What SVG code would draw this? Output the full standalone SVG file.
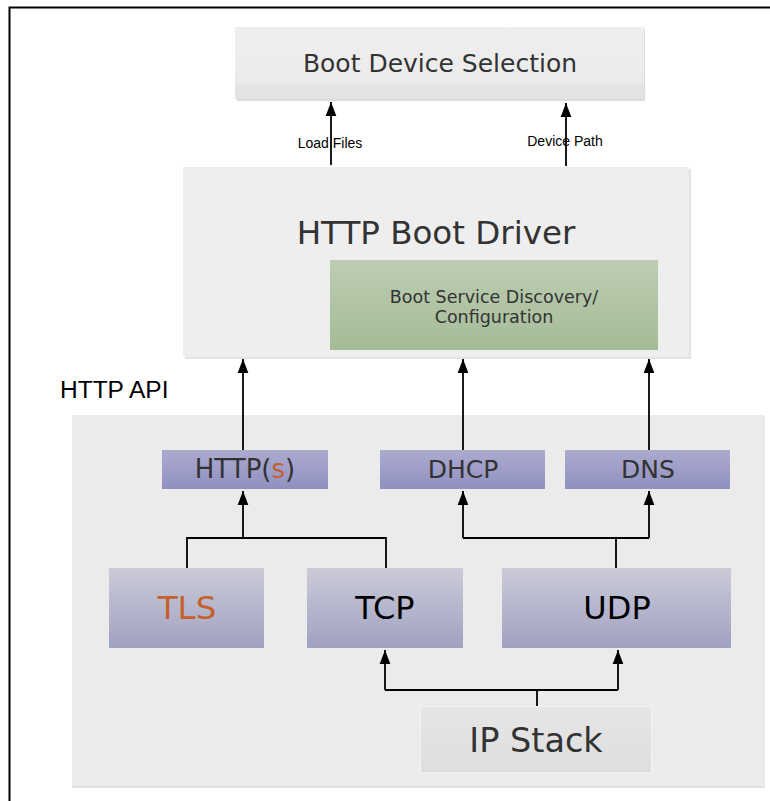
<svg xmlns="http://www.w3.org/2000/svg" width="770" height="801" viewBox="0 0 770 801">
<style>
.t{font-family:"DejaVu Sans",Verdana,sans-serif;text-anchor:middle;fill:#333}
.h{font-family:"Liberation Sans",Arial,sans-serif;fill:#000}
.c{fill:none;stroke:#000;stroke-width:1.8}
.o{fill:#c5602c}
</style>
<defs>
<linearGradient id="gGray" x1="0" y1="0" x2="0" y2="1"><stop offset="0" stop-color="#efefef"/><stop offset="0.78" stop-color="#ebebeb"/><stop offset="0.8" stop-color="#e4e4e4"/><stop offset="1" stop-color="#e2e2e2"/></linearGradient>
<linearGradient id="gGreen" x1="0" y1="0" x2="0" y2="1"><stop offset="0" stop-color="#bccdb3"/><stop offset="1" stop-color="#a5bc97"/></linearGradient>
<linearGradient id="gPurp" x1="0" y1="0" x2="0" y2="1"><stop offset="0" stop-color="#ababcf"/><stop offset="1" stop-color="#9090c1"/></linearGradient>
<linearGradient id="gProto" x1="0" y1="0" x2="0" y2="1"><stop offset="0" stop-color="#cbcbd9"/><stop offset="1" stop-color="#a1a1c1"/></linearGradient>
<linearGradient id="gIP" x1="0" y1="0" x2="0" y2="1"><stop offset="0" stop-color="#e6e6e6"/><stop offset="1" stop-color="#dedede"/></linearGradient>
<marker id="ah" markerUnits="userSpaceOnUse" markerWidth="14" markerHeight="18" refX="17" refY="6.5" viewBox="0 0 17 13" orient="auto"><path d="M0,0 L17,6.5 L0,13 Z" fill="#000"/></marker>
</defs>
<rect width="770" height="801" fill="#fff"/>
<path d="M9.5,801 V7.5 H770" fill="none" stroke="#000" stroke-width="2"/>

<g id="boot-device-selection">
<rect x="237" y="29" width="408" height="72" fill="#dcdcdc"/>
<rect x="235" y="27" width="409" height="72" fill="url(#gGray)"/>
<text class="t" x="440" y="72" font-size="25">Boot Device Selection</text>
</g>

<g id="http-boot-driver">
<rect x="185" y="169" width="506" height="190" fill="#e2e2e2"/>
<rect x="183" y="167" width="506" height="190" fill="#eeeeee"/>
<text class="t" x="436" y="244" font-size="32.5">HTTP Boot Driver</text>
</g>

<g id="boot-service-discovery">
<rect x="330" y="260" width="328" height="90" fill="url(#gGreen)"/>
<text class="t" x="494" y="303" font-size="17.5">Boot Service Discovery/</text>
<text class="t" x="494" y="323" font-size="17.5">Configuration</text>
</g>

<g id="http-api-label">
<text class="h" x="60" y="398" font-size="24.5">HTTP API</text>
</g>

<g id="http-api-panel">
<rect x="72" y="415" width="693" height="373" fill="#ebebeb"/>
<rect x="72" y="786" width="693" height="2" fill="#e0e0e0"/>
</g>

<g id="https">
<rect x="162" y="450" width="166" height="39" fill="url(#gPurp)"/>
<text class="t" x="245" y="478" font-size="26">HTTP(<tspan class="o">s</tspan>)</text>
</g>
<g id="dhcp">
<rect x="380" y="450" width="165" height="39" fill="url(#gPurp)"/>
<text class="t" x="463" y="478" font-size="25">DHCP</text>
</g>
<g id="dns">
<rect x="565" y="450" width="165" height="39" fill="url(#gPurp)"/>
<text class="t" x="648" y="478" font-size="25">DNS</text>
</g>

<g id="tls">
<rect x="109" y="568" width="155" height="80" fill="url(#gProto)"/>
<text class="t o" x="187" y="619" font-size="32.5">TLS</text>
</g>
<g id="tcp">
<rect x="307" y="568" width="156" height="80" fill="url(#gProto)"/>
<text class="t" x="385" y="619" font-size="32" style="fill:#000">TCP</text>
</g>
<g id="udp">
<rect x="502" y="568" width="229" height="80" fill="url(#gProto)"/>
<text class="t" x="617" y="619" font-size="32" style="fill:#000">UDP</text>
</g>

<g id="ip-stack">
<rect x="419" y="705" width="234" height="69" fill="#efefef"/>
<rect x="421" y="707" width="230" height="65" fill="url(#gIP)"/>
<text class="t" x="536" y="752" font-size="33.5">IP Stack</text>
</g>

<g id="connectors">
<path class="c" d="M331,165 V102" marker-end="url(#ah)"/>
<path class="c" d="M566,166 V103" marker-end="url(#ah)"/>
<path class="c" d="M243,450 V359" marker-end="url(#ah)"/>
<path class="c" d="M463,450 V359" marker-end="url(#ah)"/>
<path class="c" d="M649,450 V359" marker-end="url(#ah)"/>
<path class="c" d="M187,568 V538 H386 V568"/>
<path class="c" d="M243,538 V491" marker-end="url(#ah)"/>
<path class="c" d="M616,568 V538"/>
<path class="c" d="M463,538 H649"/>
<path class="c" d="M463,538 V491" marker-end="url(#ah)"/>
<path class="c" d="M649,538 V491" marker-end="url(#ah)"/>
<path class="c" d="M537,706 V690"/>
<path class="c" d="M385,690 H618"/>
<path class="c" d="M385,690 V650" marker-end="url(#ah)"/>
<path class="c" d="M618,690 V650" marker-end="url(#ah)"/>
</g>

<g id="labels">
<text class="h" x="330" y="148" font-size="14" text-anchor="middle">Load Files</text>
<text class="h" x="565" y="146" font-size="14" text-anchor="middle">Device Path</text>
</g>
</svg>
